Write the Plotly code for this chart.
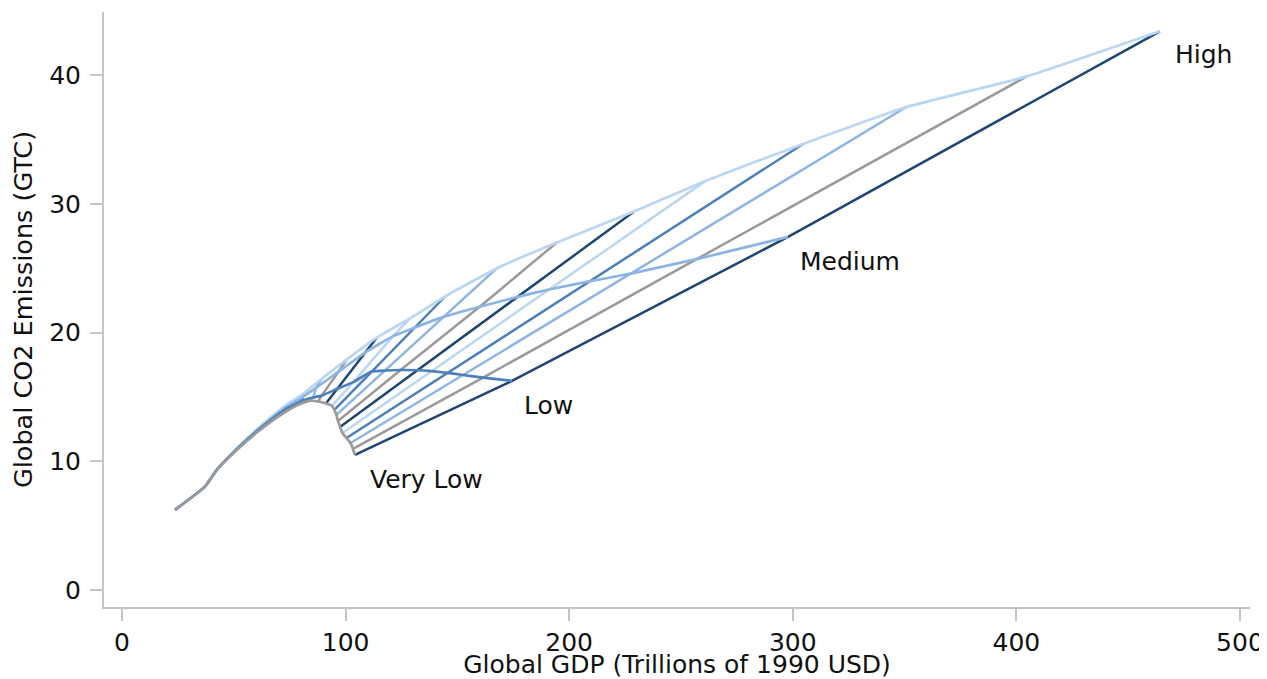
import plotly.graph_objects as go

# Common historical trunk (GDP in trillions 1990 USD, CO2 in GtC)
trunk_gdp = [23.7, 37.1, 42.3]
trunk_co2 = [6.22, 8.03, 9.32]

# Scenario trajectories (same periods for each scenario)
vl_gdp = [51.3, 61.7, 72.1, 79.0, 83.7, 87.7, 91.2, 93.9, 95.0, 95.9, 96.6, 97.5, 98.6, 100.4, 102.2, 103.3, 104.2]
vl_co2 = [10.88, 12.43, 13.73, 14.40, 14.69, 14.65, 14.49, 14.30, 13.99, 13.60, 13.13, 12.67, 12.20, 11.81, 11.42, 10.96, 10.49]

low_gdp = [51.5, 62.2, 72.8, 80.5, 85.5, 89.3, 96.3, 103.5, 111.6, 117.6, 124.6, 132.2, 138.5, 145.6, 152.5, 161.5, 174.4]
low_co2 = [10.95, 12.6, 14.0, 14.7, 14.95, 15.1, 15.63, 16.15, 16.97, 17.05, 17.09, 17.07, 17.0, 16.87, 16.7, 16.5, 16.24]

med_gdp = [51.6, 62.5, 73.5, 80.9, 86.8, 96.8, 109.2, 121.2, 131.0, 143.5, 160.0, 177.0, 191.0, 209.0, 227.5, 257.0, 297.9]
med_co2 = [11.0, 12.7, 14.2, 15.0, 15.7, 16.96, 18.5, 19.72, 20.4, 21.2, 22.0, 22.77, 23.34, 23.97, 24.58, 25.7, 27.43]

high_gdp = [51.8, 63.0, 74.5, 81.5, 89.3, 100.5, 113.9, 128.8, 144.5, 167.7, 194.5, 229.0, 261.2, 304.6, 350.6, 404.7, 464.2]
high_co2 = [11.1, 12.9, 14.5, 15.3, 16.4, 17.9, 19.6, 21.1, 22.8, 25.0, 27.0, 29.4, 31.8, 34.65, 37.5, 39.9, 43.4]

scenario_names = ["Very Low", "Low", "Medium", "High"]

NAVY = "#1f4670"
GREY = "#9a9a9a"
LIGHTMED = "#8db5e3"
MED = "#4c7fba"
LIGHT = "#bad6f2"
cycle = [NAVY, GREY, LIGHTMED, MED, LIGHT]

fig = go.Figure()

n = len(vl_gdp)
# Period cross-lines linking the four scenarios
for i in range(n):
    col = cycle[(n - 1 - i) % 5]
    fig.add_trace(go.Scatter(
        x=[vl_gdp[i], low_gdp[i], med_gdp[i], high_gdp[i]],
        y=[vl_co2[i], low_co2[i], med_co2[i], high_co2[i]],
        mode="lines", line=dict(color=col, width=2.5), hoverinfo="skip", showlegend=False))

# Scenario trajectories
for gx, gy, col in [(high_gdp, high_co2, LIGHT), (med_gdp, med_co2, LIGHTMED),
                    (low_gdp, low_co2, MED), (vl_gdp, vl_co2, GREY)]:
    fig.add_trace(go.Scatter(x=trunk_gdp + gx, y=trunk_co2 + gy, mode="lines",
                             line=dict(color=col, width=2.7, shape="spline", smoothing=0.4),
                             hoverinfo="skip", showlegend=False))

label_font = dict(family="DejaVu Sans", size=25, color="#111111")
ends = [(vl_gdp[-1], vl_co2[-1], 5.8, -1.9), (low_gdp[-1], low_co2[-1], 4.5, -1.9),
        (med_gdp[-1], med_co2[-1], 4.4, -1.9), (high_gdp[-1], high_co2[-1], 5.8, -1.8)]
for name, (ex, ey, dx, dy) in zip(scenario_names, ends):
    fig.add_annotation(x=ex + dx, y=ey + dy, text=name, showarrow=False,
                       xanchor="left", yanchor="middle", font=label_font)

axis_common = dict(showgrid=False, zeroline=False, showline=True, linecolor="#c4c4c4", linewidth=2,
                   ticks="outside", tickcolor="#c4c4c4", tickwidth=1.5, ticklen=12, automargin=False,
                   tickfont=dict(family="DejaVu Sans", size=25, color="#111111"))

fig.update_xaxes(range=[-8.05, 504.5], tickvals=[0, 100, 200, 300, 400, 500],
                 title=dict(text="Global GDP (Trillions of 1990 USD)", standoff=0,
                            font=dict(family="DejaVu Sans", size=25, color="#111111")),
                 **axis_common)
fig.update_yaxes(range=[-1.32, 44.9], tickvals=[0, 10, 20, 30, 40], ticklabelstandoff=4,
                 title=dict(text="Global CO2 Emissions (GTC)", standoff=10,
                            font=dict(family="DejaVu Sans", size=25.5, color="#111111")),
                 **axis_common)

# page body adds an 8px offset, so the figure is sized to fit the window
fig.update_layout(width=1259, height=671, margin=dict(l=96, r=17, t=4, b=72),
                  plot_bgcolor="white", paper_bgcolor="white")

fig.write_html("out.html")
